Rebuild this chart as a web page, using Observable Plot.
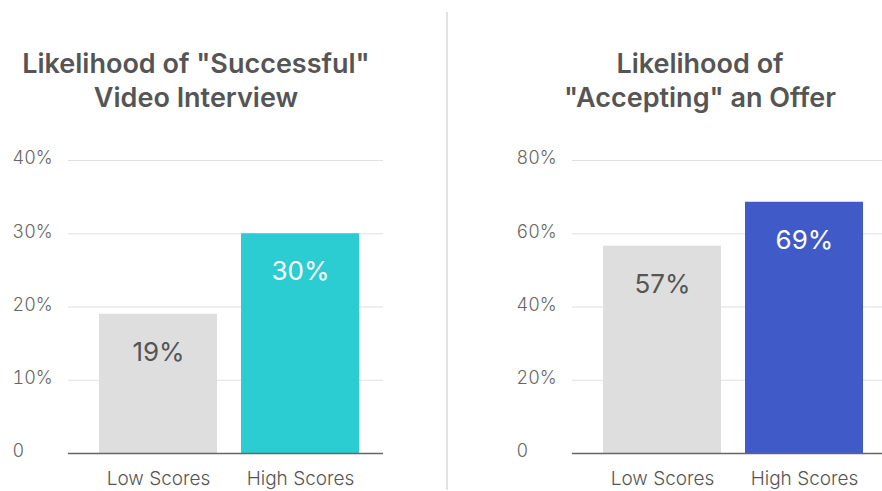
<!DOCTYPE html>
<html><head><meta charset="utf-8">
<script src="https://cdn.jsdelivr.net/npm/d3@7"></script>
<script src="https://cdn.jsdelivr.net/npm/@observablehq/plot@0.6"></script>
<style>
html,body{margin:0;padding:0;background:#fff;width:882px;height:491px;overflow:hidden;}
body{position:relative;font-family:Inter,"Open Sans",sans-serif;}
.panel{position:absolute;top:0;width:441px;height:491px;}
.title{position:absolute;top:0;height:130px;text-align:center;color:#555;font-weight:600;font-size:27px;line-height:34px;}
.title span{display:block;}
.chart{position:absolute;top:130px;left:0;}
.divider{position:absolute;left:446px;top:12px;width:1.5px;height:478px;background:#e2e2e2;}
</style></head>
<body>
<div class="divider"></div>
<div class="panel" id="p1"><div class="title" id="t1" style="left:-29px;width:450px;"></div><div class="chart" id="c1"></div></div>
<div class="panel" id="p2" style="left:504px"><div class="title" id="t2" style="left:-29px;width:450px;"></div><div class="chart" id="c2"></div></div>
<script>
const categories = ["Low Scores", "High Scores"];
const interviewValues = [19, 30];
const offerValues = [56.6, 68.6];
const interviewTicks = [0, 10, 20, 30, 40];
const offerTicks = [0, 20, 40, 60, 80];
const titles = [["Likelihood of \"Successful\"", "Video Interview"], ["Likelihood of", "\"Accepting\" an Offer"]];
const barColors = [["#dedede", "#2bcdd3"], ["#dedede", "#405bc8"]];
const labelColors = [["#555555", "#ffffff"], ["#555555", "#ffffff"]];

function makeChart(values, ticks, colors, lcolors) {
  const data = categories.map((c, i) => ({cat: c, v: values[i], fill: colors[i], lc: lcolors[i], label: Math.round(values[i]) + "%"}));
  return Plot.plot({
    width: 441, height: 361,
    marginLeft: 68, marginRight: 58, marginTop: 30, marginBottom: 38,
    style: {fontFamily: "Inter, 'Open Sans', sans-serif", background: "transparent"},
    x: {domain: categories, range: [68, 390], paddingInner: 0.169, paddingOuter: 0.218, label: null},
    y: {domain: [ticks[0], ticks[ticks.length - 1]], label: null},
    marks: [
      Plot.gridY(ticks, {stroke: "#e0e0e0", strokeOpacity: 1, strokeWidth: 1.2}),
      Plot.barY(data, {x: "cat", y: "v", fill: d => d.fill}),
      Plot.ruleY([0], {stroke: "#666", strokeWidth: 1.5}),
      Plot.text(data, {x: "cat", y: "v", text: "label", dy: 38, fill: d => d.lc, fontSize: 26, fontWeight: d => d.lc === "#ffffff" ? 700 : 500}),
      Plot.axisY(ticks, {tickSize: 0, tickPadding: 56, textAnchor: "start", fontSize: 18, fill: "#666", fontWeight: 300, dy: -2,
        tickFormat: d => d === 0 ? "0" : d + "%"}),
      Plot.axisX({tickSize: 0, tickPadding: 18, fontSize: 19, fill: "#555", fontWeight: 300})
    ]
  });
}
document.getElementById("c1").appendChild(makeChart(interviewValues, interviewTicks, barColors[0], labelColors[0]));
document.getElementById("c2").appendChild(makeChart(offerValues, offerTicks, barColors[1], labelColors[1]));
["t1", "t2"].forEach((id, i) => {
  const el = document.getElementById(id);
  el.style.paddingTop = "47px";
  titles[i].forEach(t => { const s = document.createElement("span"); s.textContent = t; el.appendChild(s); });
});
</script>
</body></html>
